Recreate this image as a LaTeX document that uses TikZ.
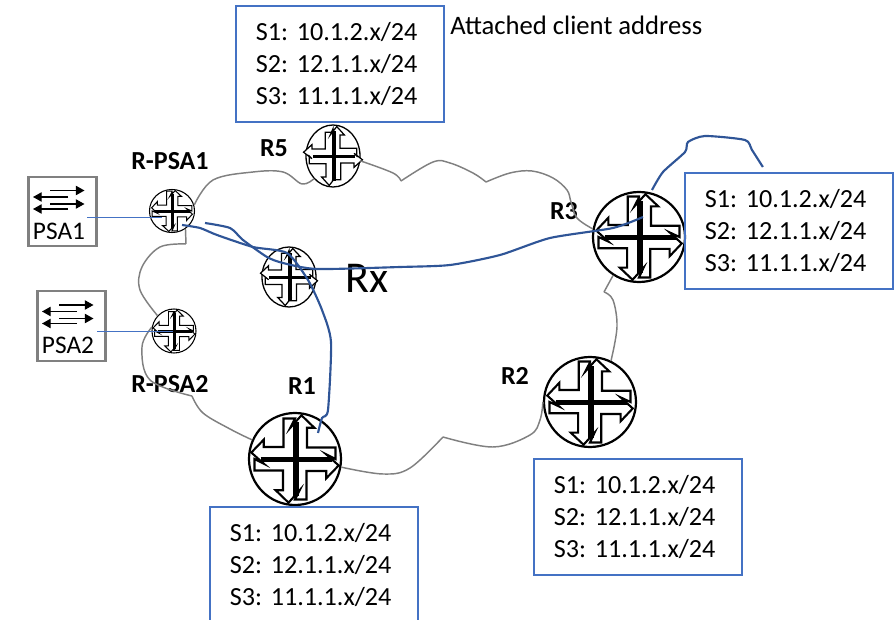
\documentclass[tikz,border=0pt]{standalone}
\usepackage{fontspec}
\setmainfont{Carlito}
\usetikzlibrary{shapes.geometric,arrows.meta}
\frenchspacing

% router: name, x, y, x radius, y radius
\newcommand{\router}[5]{
\node[ellipse,draw=black,line width=0.036pt*#4,minimum width=1.5pt*#4,minimum height=1.5pt*#5,inner sep=0pt] (#1) at (#2,#3) {};
\begin{scope}[shift={(#1.center)},x=0.75pt*#4,y=0.75pt*#5,line width=0.034pt*#4]
\draw[fill=white] (0,0.88) \foreach \a in {0,-90,-180,-270} {[rotate=\a] -- (-0.1,0.68) -- (0.14,0.95) -- (0.42,0.68) -- (0.26,0.68) -- (0.26,0.25) -- (0.88,0.25) -- (0.88,0)} -- cycle;
\draw[line width=0.11pt*#4] (0.02,0.8) -- (0.02,-0.8);
\draw[line width=0.08pt*#4] (-0.75,-0.02) -- (0.8,-0.02);
\end{scope}
}

\begin{document}
\begin{tikzpicture}[x=0.75pt,y=-0.75pt,
addr/.style={rectangle,draw=addrblue,line width=1.3pt,align=left,font=\fontsize{19.6}{24}\selectfont,anchor=north west,inner ysep=0pt,inner xsep=15pt,minimum height=87pt,text width=126pt},
psa/.style={rectangle,draw=black!50,line width=1.6pt,minimum width=51pt,minimum height=52pt,inner sep=0pt},
psatext/.style={font=\fontsize{19}{23}\selectfont,inner sep=0pt},
lbl/.style={font=\fontsize{19.5}{22}\selectfont\bfseries,inner sep=0pt},
cloud/.style={draw=black!50,line width=1.1pt},
route/.style={draw=pathblue,line width=1.6pt},
uplink/.style={draw=addrblue,line width=0.6pt},
flow/.style={-{Triangle[length=6.5pt,width=7pt]},line width=0.9pt}]
\definecolor{addrblue}{HTML}{4472C4}
\definecolor{pathblue}{HTML}{2F5597}

\useasboundingbox (0,0) rectangle (894,620);
\clip (0,0) rectangle (894,620);

% Routers
\router{rfive}{333}{156}{27}{31}
\router{rpsaone}{172}{211}{22.5}{21.5}
\router{rx}{289}{277}{27}{30}
\router{rpsatwo}{174}{331}{22}{22}
\router{rone}{295}{459}{46}{46}
\router{rtwo}{590}{402}{46}{45}
\router{rthree}{639}{237}{46}{45}

% Labels
\node[lbl] (lblrpsaone) at (170,161) {R-PSA1};
\node[lbl] (lblrfive) at (274,148) {R5};
\node[lbl] (lblrthree) at (564,211) {R3};
\node[lbl] (lblrtwo) at (515,376) {R2};
\node[lbl] (lblrone) at (302,386) {R1};
\node[lbl] (lblrpsatwo) at (170,384) {R-PSA2};
\node[font=\fontsize{33}{36}\selectfont,inner sep=0pt] (lblrx) at (367,278) {Rx};
\node[font=\fontsize{20}{24}\selectfont,anchor=west,inner sep=0pt] (attached) at (450,25) {Attached client address};

% Address boxes
\def\T{S1: 10.1.2.x/24\\S2: 12.1.1.x/24\\S3: 11.1.1.x/24}
\node[addr] (boxfive) at (235,5) {\T};
\node[addr] (boxthree) at (684,172) {\T};
\node[addr] (boxtwo) at (533,458) {\T};
\node[addr] (boxone) at (209,506) {\T};

% PSA
\node[psa] (psaone) at (62.5,211.5) {};
\node[psatext] (psaonetext) at (59,231) {PSA1};
\node[psa] (psatwo) at (71.5,326) {};
\node[psatext] (psatwotext) at (68,345) {PSA2};
\foreach \n in {psaone,psatwo}{
\draw[flow] ([shift={(-12.5,-21)}]\n.center) -- ([shift={(22,-21)}]\n.center);
\draw[flow] ([shift={(5.5,-14.5)}]\n.center) -- ([shift={(-29.5,-14.5)}]\n.center);
\draw[flow] ([shift={(-12.5,-7.5)}]\n.center) -- ([shift={(22,-7.5)}]\n.center);
\draw[flow] ([shift={(5.5,-2.5)}]\n.center) -- ([shift={(-29.5,-2.5)}]\n.center);
}

% Cloud
\coordinate (cuspa) at (401,181);
\coordinate (cuspb) at (486,182);
\coordinate (cuspc) at (604,292);
\coordinate (cuspd) at (443,437);
\coordinate (cuspe) at (192,396);
\coordinate (cuspf) at (186,244);
\draw[cloud] plot[smooth,tension=0.6] coordinates {(rpsaone.15) (213,180) (253,172) (283,172) (302,184) (rfive.230)};
\draw[cloud] plot[smooth,tension=0.6] coordinates {(rfive.-10) (393,173) (cuspa)};
\draw[cloud] plot[smooth,tension=0.6] coordinates {(cuspa) (433,162) (450,163) (473,173) (cuspb)};
\draw[cloud] plot[smooth,tension=0.6] coordinates {(cuspb) (510,173) (532,171) (553,178) (567,190) (571,202) (577,218) (rthree.170)};
\draw[cloud] (rthree.236) -- (cuspc);
\draw[cloud] plot[smooth,tension=0.6] coordinates {(cuspc) (613,300) (617,327) (rtwo.63)};
\draw[cloud] plot[smooth,tension=0.6] coordinates {(rtwo.180) (540,420) (530,435) (493,447) (cuspd)};
\draw[cloud] plot[smooth,tension=0.6] coordinates {(cuspd) (410,468) (383,474) (rone.-10)};
\draw[cloud] plot[smooth,tension=0.6] coordinates {(rone.156) (230,429) (203,413) (cuspe)};
\draw[cloud] plot[smooth,tension=0.6] coordinates {(cuspe) (150,380) (142,347) (rpsatwo.170)};
\draw[cloud] plot[smooth,tension=0.6] coordinates {(rpsatwo.137) (140,290) (142,267) (160,247) (cuspf)};
\draw[cloud] (cuspf) -- (rpsaone.-53);

% Arrows
\draw[uplink] ([shift={(24.5,5.5)}]psaone.center) -- ([shift={(-10,6)}]rpsaone.center);
\draw[uplink] ([shift={(25.5,5)}]psatwo.center) -- ([shift={(-1,0)}]rpsatwo.center);
\draw[route] plot[smooth,tension=0.4] coordinates {([shift={(10,14)}]rpsaone.center) (200,228) (217,235) (253,247) (287,253) (308,280) (322,310) (331,342) (328,410) (322,418) ([shift={(23,-26)}]rone.center)};
\draw[route] plot[smooth,tension=0.4] coordinates {([shift={(33,12)}]rpsaone.center) (230,228) (243,240) (267,257) (283,263) (317,269) (400,267) (450,265) (500,255) (550,238) (613,228) ([shift={(4,-20)}]rthree.center)};
\draw[route] plot[smooth,tension=0.4] coordinates {([shift={(13,-47)}]rthree.center) (663,172) (685,152) (688,142) (705,136) (745,140) (752,150) ([shift={(-26,-5)}]boxthree.north)};

\end{tikzpicture}
\end{document}
